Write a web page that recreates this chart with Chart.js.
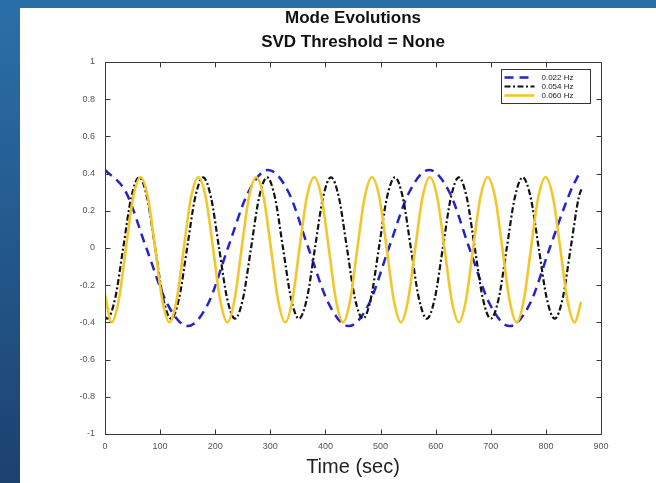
<!DOCTYPE html>
<html>
<head>
<meta charset="utf-8">
<script src="https://cdn.jsdelivr.net/npm/chart.js@4"></script>
<style>
  html, body { margin: 0; padding: 0; }
  body {
    width: 656px; height: 483px; overflow: hidden;
    background: linear-gradient(to bottom, #2b70a9, #1c416f);
    position: relative;
  }
  #panel {
    position: absolute; left: 20px; top: 8px;
    width: 636px; height: 475px; background: #fff;
  }
</style>
</head>
<body>
<div id="panel"><canvas id="modeChart" width="636" height="475"></canvas></div>
<script>
const titleLines = ["Mode Evolutions", "SVD Threshold = None"];
const seriesLabels = ["0.022 Hz", "0.054 Hz", "0.060 Hz"];

// 0.022 Hz (blue dashed)
const blueTime = [0, 38, 75, 113, 150, 187, 223, 260, 296, 333, 369, 406, 442, 479, 515, 552, 588, 625, 661, 698, 734, 771, 807, 844, 862];
const blueValue = [0.42, 0.30, 0, -0.30, -0.42, -0.30, 0, 0.30, 0.42, 0.30, 0, -0.30, -0.42, -0.30, 0, 0.30, 0.42, 0.30, 0, -0.30, -0.42, -0.30, 0, 0.30, 0.41];

// 0.054 Hz (black dash-dot)
const blackTime = [0, 4, 18.5, 33, 47.5, 62, 76.5, 91, 105.5, 120, 134.5, 149, 163.5, 178, 192.5, 207, 221.5,
  236, 250.5, 265, 279.5, 294, 308.5, 323, 337.5, 352, 366.5, 381, 395.5, 410, 424.5, 439, 453.5,
  468, 482.5, 497, 511.5, 526, 540.5, 555, 569.5, 584, 598.5, 613, 627.5, 642, 656.5, 671, 685.5,
  700, 714.5, 729, 743.5, 758, 772.5, 787, 801.5, 816, 830.5, 845, 859.5, 865];
const blackValue = [-0.37, -0.38, -0.27, 0, 0.27, 0.38, 0.27, 0, -0.27, -0.38, -0.27, 0, 0.27, 0.38, 0.27, 0, -0.27,
  -0.38, -0.27, 0, 0.27, 0.38, 0.27, 0, -0.27, -0.38, -0.27, 0, 0.27, 0.38, 0.27, 0, -0.27,
  -0.38, -0.27, 0, 0.27, 0.38, 0.27, 0, -0.27, -0.38, -0.27, 0, 0.27, 0.38, 0.27, 0, -0.27,
  -0.38, -0.27, 0, 0.27, 0.38, 0.27, 0, -0.27, -0.38, -0.27, 0, 0.27, 0.32];

// 0.060 Hz (yellow solid)
const yellowTime = [0, 12, 25, 38, 51, 64.5, 78, 91, 104, 117, 130, 143, 156, 169.5, 183, 196, 209,
  222, 235, 248, 261, 274.5, 288, 301, 314, 327, 340, 353, 366, 379.5, 393, 406, 419,
  432, 445, 458, 471, 484.5, 498, 511, 524, 537, 550, 563, 576, 589.5, 603, 616, 629,
  642, 655, 668, 681, 694.5, 708, 721, 734, 747, 760, 773, 786, 799.5, 813, 826, 839, 852, 864];
const yellowValue = [-0.25, -0.40, -0.28, 0, 0.27, 0.38, 0.27, 0, -0.28, -0.40, -0.28, 0, 0.27, 0.38, 0.27, 0, -0.28,
  -0.40, -0.28, 0, 0.27, 0.38, 0.27, 0, -0.28, -0.40, -0.28, 0, 0.27, 0.38, 0.27, 0, -0.28,
  -0.40, -0.28, 0, 0.27, 0.38, 0.27, 0, -0.28, -0.40, -0.28, 0, 0.27, 0.38, 0.27, 0, -0.28,
  -0.40, -0.28, 0, 0.27, 0.38, 0.27, 0, -0.28, -0.40, -0.28, 0, 0.27, 0.38, 0.27, 0, -0.28, -0.40, -0.29];

const FONT = "'Liberation Sans', Arial, Helvetica, sans-serif";

function toPoints(xs, ys) {
  return xs.map((x, i) => ({ x: x, y: ys[i] }));
}

// title centred over the plot area (matlab style)
const titlePlugin = {
  id: "mTitle",
  afterDraw(chart) {
    const ctx = chart.ctx;
    const a = chart.chartArea;
    const cx = (a.left + a.right) / 2;
    ctx.save();
    ctx.fillStyle = "#111";
    ctx.font = "bold 17px " + FONT;
    ctx.textAlign = "center";
    ctx.textBaseline = "middle";
    ctx.fillText(titleLines[0], cx, 10);
    ctx.fillText(titleLines[1], cx, 34);
    ctx.restore();
  }
};

// box around the axes with inward ticks
const framePlugin = {
  id: "frame",
  afterDatasetsDraw(chart) {
    const ctx = chart.ctx;
    const a = chart.chartArea;
    const xs = chart.scales.x, ys = chart.scales.y;
    const L = Math.round(a.left) + 0.5, R = Math.round(a.right) + 0.5;
    const T = Math.round(a.top) + 0.5, B = Math.round(a.bottom) + 0.5;
    ctx.save();
    ctx.strokeStyle = "#3a3a3a";
    ctx.lineWidth = 1;
    ctx.strokeRect(L, T, R - L, B - T);
    ctx.beginPath();
    xs.ticks.forEach(t => {
      const px = Math.round(xs.getPixelForValue(t.value)) + 0.5;
      ctx.moveTo(px, B); ctx.lineTo(px, B - 5);
      ctx.moveTo(px, T); ctx.lineTo(px, T + 5);
    });
    ys.ticks.forEach(t => {
      const py = Math.round(ys.getPixelForValue(t.value)) + 0.5;
      ctx.moveTo(L, py); ctx.lineTo(L + 5, py);
      ctx.moveTo(R, py); ctx.lineTo(R - 5, py);
    });
    ctx.stroke();
    ctx.restore();
  }
};

const legendPlugin = {
  id: "mLegend",
  afterDraw(chart) {
    const ctx = chart.ctx;
    const a = chart.chartArea;
    const left = Math.round(a.right - 100) + 0.5;
    const right = Math.round(a.right - 11) + 0.5;
    const top = Math.round(a.top + 7) + 0.5;
    const h = 34;
    ctx.save();
    ctx.fillStyle = "#fff";
    ctx.fillRect(left, top, right - left, h);
    ctx.strokeStyle = "#333";
    ctx.lineWidth = 1;
    ctx.strokeRect(left, top, right - left, h);
    chart.data.datasets.forEach((ds, i) => {
      const y = top + 8 + i * 9;
      ctx.beginPath();
      ctx.setLineDash(ds.borderDash || []);
      ctx.strokeStyle = ds.borderColor;
      ctx.lineWidth = ds.borderWidth;
      ctx.moveTo(left + 3, y);
      ctx.lineTo(left + 33, y);
      ctx.stroke();
      ctx.setLineDash([]);
      ctx.fillStyle = "#222";
      ctx.font = "8px " + FONT;
      ctx.textAlign = "left";
      ctx.textBaseline = "middle";
      ctx.fillText(ds.label, left + 40, y);
    });
    ctx.restore();
  }
};

const ctx = document.getElementById("modeChart").getContext("2d");
const chart = new Chart(ctx, {
  type: "line",
  data: {
    datasets: [
      {
        label: seriesLabels[0],
        data: toPoints(blueTime, blueValue),
        borderColor: "#2424c4",
        borderWidth: 2.5,
        borderDash: [9, 6],
        order: 3
      },
      {
        label: seriesLabels[1],
        data: toPoints(blackTime, blackValue),
        borderColor: "#111111",
        borderWidth: 2.2,
        borderDash: [6, 2.5, 2, 2.5],
        order: 2
      },
      {
        label: seriesLabels[2],
        data: toPoints(yellowTime, yellowValue),
        borderColor: "#f2c72c",
        borderWidth: 2.6,
        order: 1
      }
    ]
  },
  options: {
    responsive: false,
    animation: false,
    devicePixelRatio: 1,
    cubicInterpolationMode: "monotone",
    elements: { point: { radius: 0 } },
    layout: { padding: { top: 54, right: 55, left: 0, bottom: 0 } },
    plugins: {
      legend: { display: false },
      title: { display: false },
      tooltip: { enabled: false }
    },
    scales: {
      x: {
        type: "linear",
        min: 0,
        max: 900,
        ticks: { stepSize: 100, color: "#555", font: { size: 9, family: FONT }, padding: 7, maxRotation: 0 },
        grid: { display: false, drawTicks: false },
        border: { display: false },
        title: {
          display: true,
          text: "Time (sec)",
          color: "#222",
          font: { size: 20, family: FONT, lineHeight: 1.2 },
          padding: { top: 0, bottom: 4 }
        },
        afterFit(scale) { scale.height = 49; }
      },
      y: {
        min: -1,
        max: 1,
        ticks: {
          stepSize: 0.2, color: "#555", font: { size: 9, family: FONT }, padding: 10,
          callback: (v) => String(Number(v.toFixed(1)))
        },
        grid: { display: false, drawTicks: false },
        border: { display: false },
        afterFit(scale) { scale.width = 85; }
      }
    }
  },
  plugins: [framePlugin, titlePlugin, legendPlugin]
});
</script>
</body>
</html>
